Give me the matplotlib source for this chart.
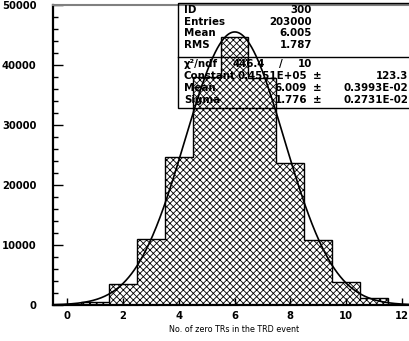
import numpy as np
import matplotlib.pyplot as plt
from matplotlib.patches import Rectangle

# histogram contents, one bin per integer
bin_centers = np.arange(0, 13)
counts = [30, 500, 3500, 11000, 24700, 38000, 44700, 37800, 23700, 10900, 3800, 1200, 0]

# gaussian fit result as printed in the stats box
fit_const = 0.4551e5
fit_mean = 6.009
fit_sigma = 1.776

stat_labels = ["ID", "Entries", "Mean", "RMS"]
stat_values = ["300", "203000", "6.005", "1.787"]
fit_labels = ["Constant", "Mean", "Sigma"]
fit_values = ["0.4551E+05", "6.009", "1.776"]
fit_errors = ["123.3", "0.3993E-02", "0.2731E-02"]
chi2, ndf = "446.4", "10"

plt.rcParams['font.family'] = 'DejaVu Sans'
plt.rcParams['font.weight'] = 'bold'
plt.rcParams['hatch.linewidth'] = 0.6

W, H = 409, 341
fig = plt.figure(figsize=(W/100, H/100), dpi=100)
ax = fig.add_axes([53/W, 1-305/H, (416-53)/W, 300/H])

edges = np.append(bin_centers - 0.5, bin_centers[-1] + 0.5)
ax.stairs(counts, edges, fill=True, hatch='xxxxx', facecolor='none',
          edgecolor='black', linewidth=1.0)

xf = np.linspace(edges[0], edges[-1], 500)
yf = fit_const*np.exp(-0.5*((xf - fit_mean)/fit_sigma)**2)
ax.plot(xf, yf, color='black', lw=1.2)

ax.set_xlim(edges[0], edges[-1])
ax.set_ylim(0, 50000)
ax.set_xticks(np.arange(0, 13, 2))
ax.set_yticks(np.arange(0, 50001, 10000))
ax.set_yticks(np.arange(0, 50001, 2000), minor=True)
ax.tick_params(axis='y', which='major', direction='in', length=7, width=1,
               labelsize=7.2, pad=12)
ax.tick_params(axis='y', which='minor', direction='in', length=3.5, width=1)
ax.tick_params(axis='x', which='major', direction='in', length=5, width=1,
               labelsize=7.2, pad=4)
for s in ['left', 'bottom']:
    ax.spines[s].set_linewidth(1.6)
ax.spines['top'].set_color('grey')
ax.spines['top'].set_linewidth(1.5)
ax.spines['right'].set_visible(False)
ax.set_xlabel("No. of zero TRs in the TRD event", fontsize=5.8, labelpad=3)

# stats box in pixel coordinates
ov = fig.add_axes([0, 0, 1, 1])
ov.set_xlim(0, W)
ov.set_ylim(H, 0)
ov.axis('off')
ov.add_patch(Rectangle((178, 2.5), 240, 105.5, fill=False, lw=1, color='black'))
ov.plot([178, 420], [57, 57], color='black', lw=1)

fs = 7.4
rows1 = [10, 22, 33.5, 45]
for y, lab, val in zip(rows1, stat_labels, stat_values):
    ov.text(184, y, lab, fontsize=fs, va='center', ha='left')
    ov.text(312, y, val, fontsize=fs, va='center', ha='right')

ov.text(184, 64, "χ²/ndf", fontsize=fs, va='center', ha='left')
ov.text(265, 64, chi2, fontsize=fs, va='center', ha='right')
ov.text(281, 64, "/", fontsize=fs, va='center', ha='center')
ov.text(312, 64, ndf, fontsize=fs, va='center', ha='right')

rows2 = [76, 88, 100]
for y, lab, val, err in zip(rows2, fit_labels, fit_values, fit_errors):
    ov.text(184, y, lab, fontsize=fs, va='center', ha='left')
    ov.text(307, y, val, fontsize=fs, va='center', ha='right')
    ov.text(317, y, "±", fontsize=fs, va='center', ha='center')
    ov.text(408, y, err, fontsize=fs, va='center', ha='right')

fig.savefig("out.png", dpi=100)
